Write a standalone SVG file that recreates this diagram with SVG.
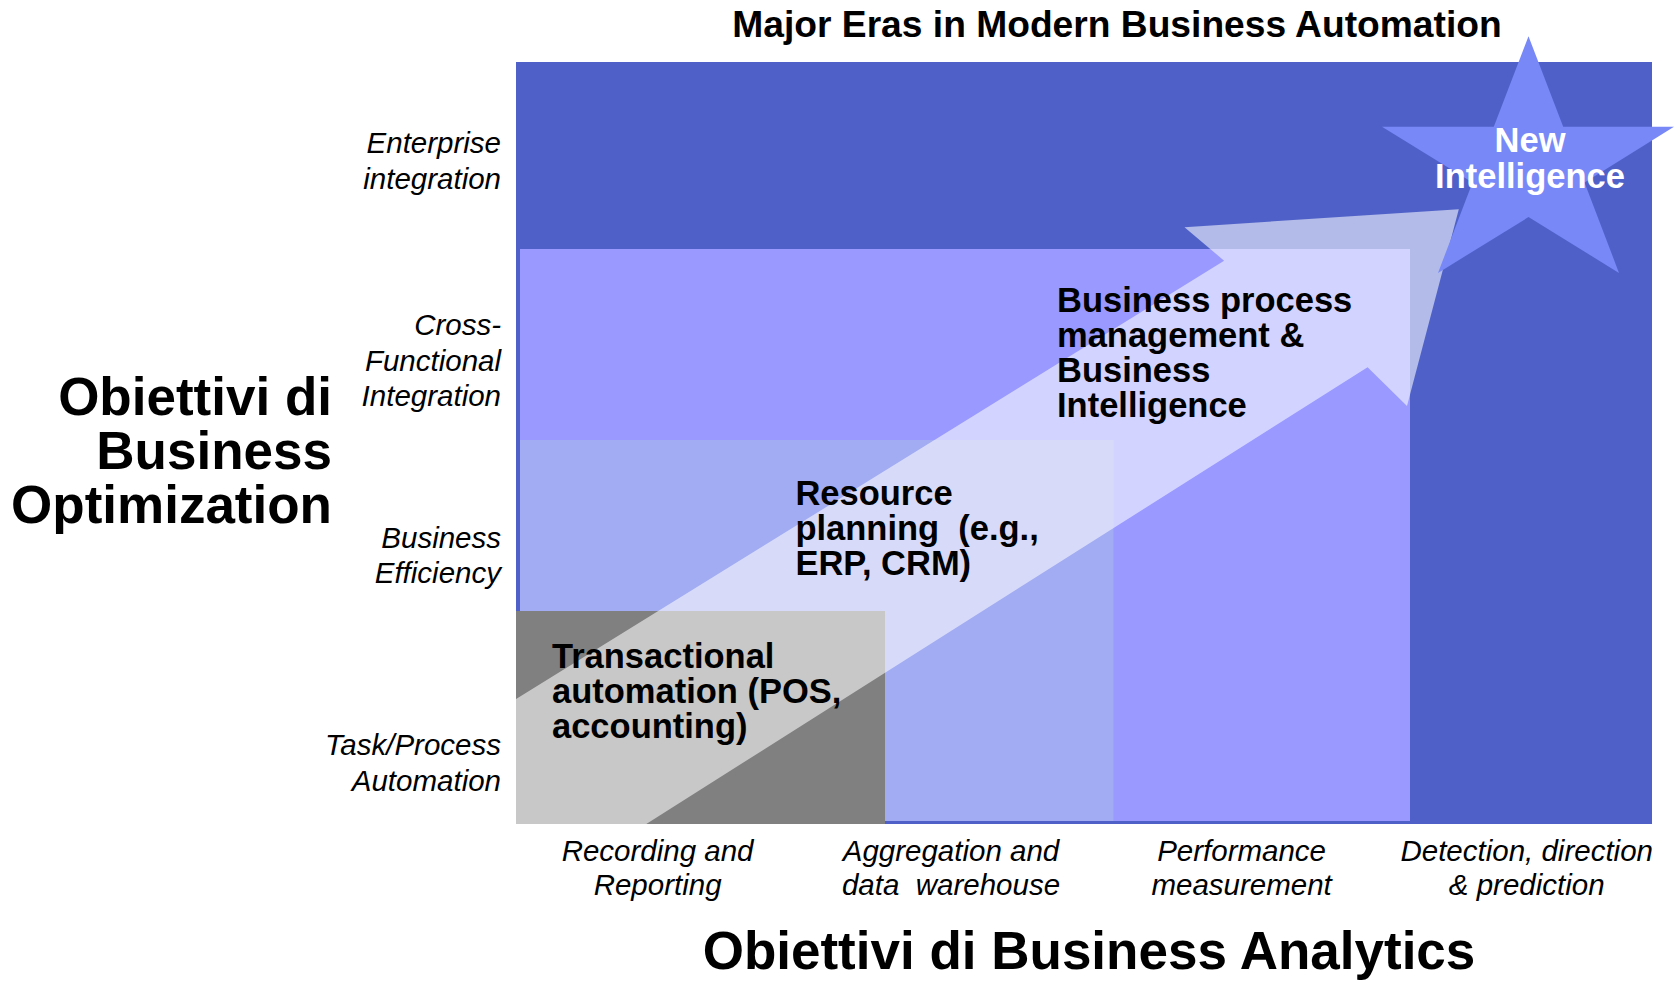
<svg xmlns="http://www.w3.org/2000/svg" width="1674" height="981" viewBox="0 0 1674 981">
<style>
.ax{font-family:"Liberation Sans",Arial,sans-serif;font-style:italic;font-size:29.5px;fill:#000}
.axr{text-anchor:end}
.axc{text-anchor:middle}
.lbl{font-family:"Liberation Sans",Arial,sans-serif;font-weight:bold;font-size:34.5px;fill:#000}
.big{font-family:"Liberation Sans",Arial,sans-serif;font-weight:bold;font-size:53px;fill:#000}
.ttl{font-family:"Liberation Sans",Arial,sans-serif;font-weight:bold;font-size:37.2px;fill:#000}
</style>
<rect width="1674" height="981" fill="#ffffff"/>
<g id="era-background">
<rect x="516" y="62" width="1136" height="762" fill="#4F61C9"/>
</g>
<g id="era-bpm">
<rect x="520" y="249" width="890" height="572" fill="#9999FF"/>
</g>
<g id="era-resource">
<rect x="520" y="440" width="593.5" height="381" fill="#A2ACF2"/>
</g>
<g id="era-transactional">
<rect x="516" y="611" width="369" height="213" fill="#808080"/>
</g>
<g id="connectors">
<polygon points="515.7,699.3 1224.1,260.7 1184.5,227.2 1458.8,209.3 1407,406 1367.6,367.2 645.9,824.2 515.7,824.2" fill="#ffffff" fill-opacity="0.57"/>
</g>
<g id="new-intelligence">
<polygon points="1528.5,36.3 1563.2,126.7 1674,126.7 1584.5,182.5 1619,272.9 1528.5,217.1 1438,272.9 1472.5,182.5 1382,126.7 1493.8,126.7" fill="#7888F7"/>
<text class="lbl" x="1530" y="152.3" text-anchor="middle" style="fill:#ffffff">New</text>
<text class="lbl" x="1530" y="187.5" text-anchor="middle" style="fill:#ffffff">Intelligence</text>
</g>
<g id="label-transactional">
<text class="lbl" x="552" y="667.9">Transactional</text>
<text class="lbl" x="552" y="703">automation (POS,</text>
<text class="lbl" x="552" y="738">accounting)</text>
</g>
<g id="label-resource">
<text class="lbl" x="795.4" y="504.5">Resource</text>
<text class="lbl" x="795.4" y="539.5" xml:space="preserve">planning  (e.g.,</text>
<text class="lbl" x="795.4" y="574.5">ERP, CRM)</text>
</g>
<g id="label-bpm">
<text class="lbl" x="1057" y="312.4">Business process</text>
<text class="lbl" x="1057" y="347.4">management &amp;</text>
<text class="lbl" x="1057" y="382.4">Business</text>
<text class="lbl" x="1057" y="417.4">Intelligence</text>
</g>
<g id="title">
<text class="ttl" x="1117" y="37" text-anchor="middle">Major Eras in Modern Business Automation</text>
</g>
<g id="y-axis-title">
<text class="big" x="332" y="415" text-anchor="end">Obiettivi di</text>
<text class="big" x="332" y="469" text-anchor="end">Business</text>
<text class="big" x="332" y="523" text-anchor="end">Optimization</text>
</g>
<g id="y-axis-labels">
<text class="ax axr" x="501" y="153">Enterprise</text>
<text class="ax axr" x="501" y="188.5">integration</text>
<text class="ax axr" x="501" y="334.7">Cross-</text>
<text class="ax axr" x="501" y="370.5">Functional</text>
<text class="ax axr" x="501" y="406">Integration</text>
<text class="ax axr" x="501" y="548.2">Business</text>
<text class="ax axr" x="501" y="583.4">Efficiency</text>
<text class="ax axr" x="501" y="755.3">Task/Process</text>
<text class="ax axr" x="501" y="790.5">Automation</text>
</g>
<g id="x-axis-labels">
<text class="ax axc" x="657.6" y="861">Recording and</text>
<text class="ax axc" x="657.6" y="895">Reporting</text>
<text class="ax axc" x="951" y="861">Aggregation and</text>
<text class="ax axc" x="951" y="895" xml:space="preserve">data  warehouse</text>
<text class="ax axc" x="1241.6" y="861">Performance</text>
<text class="ax axc" x="1241.6" y="895">measurement</text>
<text class="ax axc" x="1526.7" y="861">Detection, direction</text>
<text class="ax axc" x="1526.7" y="895">&amp; prediction</text>
</g>
<g id="x-axis-title">
<text class="big" x="1089" y="969" text-anchor="middle">Obiettivi di Business Analytics</text>
</g>
</svg>
